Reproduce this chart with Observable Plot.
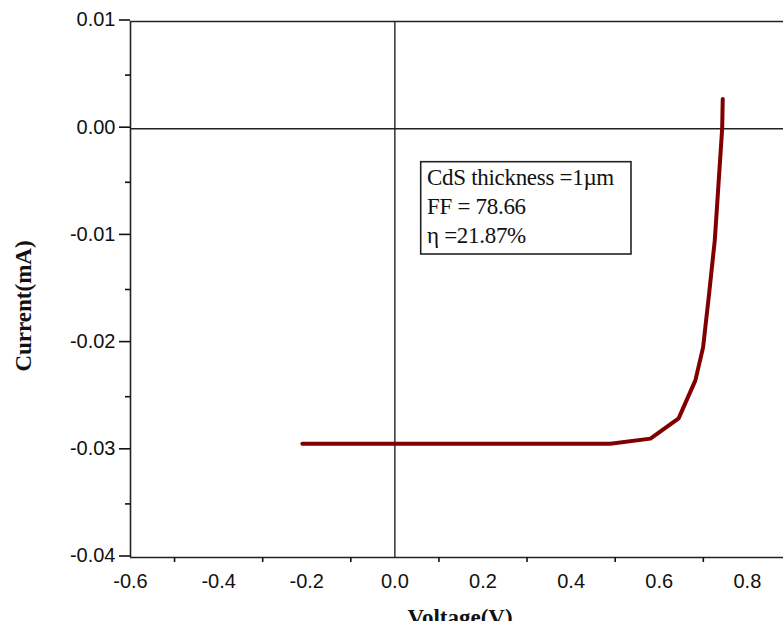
<!DOCTYPE html>
<html>
<head>
<meta charset="utf-8">
<script src="https://cdn.jsdelivr.net/npm/d3@7"></script>
<script src="https://cdn.jsdelivr.net/npm/@observablehq/plot@0.6"></script>
<style>
  html, body { margin: 0; padding: 0; background: #fff; overflow: hidden; }
</style>
</head>
<body>
<div id="chart"></div>
<script>
const voltage = [-0.21, 0.0, 0.2, 0.4, 0.489, 0.58, 0.644, 0.682, 0.6995, 0.7132, 0.726, 0.735, 0.7428, 0.7441];
const current = [-0.02938, -0.02938, -0.02938, -0.02938, -0.02938, -0.02891, -0.02702, -0.02348, -0.0204, -0.01537, -0.01044, -0.00485, 0.0, 0.00277];

const xMajorTicks = [-0.6, -0.4, -0.2, 0.0, 0.2, 0.4, 0.6, 0.8];
const xMinorTicks = [-0.5, -0.3, -0.1, 0.1, 0.3, 0.5, 0.7];
const yMajorTicks = [0.01, 0.0, -0.01, -0.02, -0.03, -0.04];
const yMinorTicks = [0.005, -0.005, -0.015, -0.025, -0.035];

const annotationLines = ["CdS thickness =1\u00b5m", "FF = 78.66", "\u03b7 =21.87%"];
const xLabel = "Voltage(V)";
const yLabel = "Current(mA)";

const data = voltage.map((v, i) => ({v, c: current[i]}));

const W = 783, H = 621;
const plot = Plot.plot({
  width: W,
  height: H,
  marginLeft: 130,
  marginRight: 0,
  marginTop: 21,
  marginBottom: 64,
  style: {fontFamily: "'Liberation Sans', Arial, sans-serif", fontSize: "20px", color: "#111", background: "#fff"},
  x: {domain: [-0.6, 0.882]},
  y: {domain: [-0.04, 0.01]},
  marks: [
    // frame lines and crosshair
    Plot.ruleY([0.01], {stroke: "#222", strokeWidth: 1.6}),
    Plot.ruleY([-0.04], {stroke: "#222", strokeWidth: 1.6}),
    Plot.ruleX([-0.6], {stroke: "#222", strokeWidth: 1.6}),
    Plot.ruleY([0], {stroke: "#222", strokeWidth: 1.4}),
    Plot.ruleX([0], {stroke: "#222", strokeWidth: 1.4}),
    // axes
    Plot.axisX({ticks: xMajorTicks, tickSize: 0, tickPadding: 16, tickFormat: d => d.toFixed(1), label: null}),
    Plot.axisX({ticks: xMinorTicks, tickSize: 5, strokeWidth: 1.6, text: null, label: null}),
    Plot.axisY({ticks: yMajorTicks, tickSize: 11, strokeWidth: 1.6, tickPadding: 4, dy: -1.5, tickFormat: d => d.toFixed(2), label: null}),
    Plot.axisY({ticks: yMinorTicks, tickSize: 5, strokeWidth: 1.6, text: null, label: null}),
    // curve
    Plot.line(data, {x: "v", y: "c", stroke: "#800000", strokeWidth: 4, strokeLinejoin: "round"}),
  ]
});

const svg = d3.select(plot);
// annotation box
const g = svg.append("g").attr("text-anchor", "start");
g.append("rect")
  .attr("x", 420.7).attr("y", 161.7).attr("width", 210.3).attr("height", 92.3)
  .attr("fill", "#fff").attr("stroke", "#222").attr("stroke-width", 1.6);
annotationLines.forEach((t, i) => {
  g.append("text")
    .attr("x", 427).attr("y", 185 + i * 29)
    .attr("text-anchor", "start")
    .attr("font-family", "'Liberation Serif', 'Times New Roman', serif")
    .attr("font-size", 23)
    .attr("letter-spacing", -0.3)
    .attr("fill", "#111")
    .text(t);
});
// axis titles
svg.append("text")
  .attr("transform", "translate(31,306) rotate(-90)")
  .attr("text-anchor", "middle")
  .attr("font-family", "'Liberation Serif', 'Times New Roman', serif")
  .attr("font-weight", "bold")
  .attr("font-size", 23)
  .attr("fill", "#111")
  .text(yLabel);
svg.append("text")
  .attr("x", 460).attr("y", 625)
  .attr("text-anchor", "middle")
  .attr("font-family", "'Liberation Serif', 'Times New Roman', serif")
  .attr("font-weight", "bold")
  .attr("font-size", 23)
  .attr("fill", "#111")
  .text(xLabel);

document.getElementById("chart").appendChild(plot);
</script>
</body>
</html>
